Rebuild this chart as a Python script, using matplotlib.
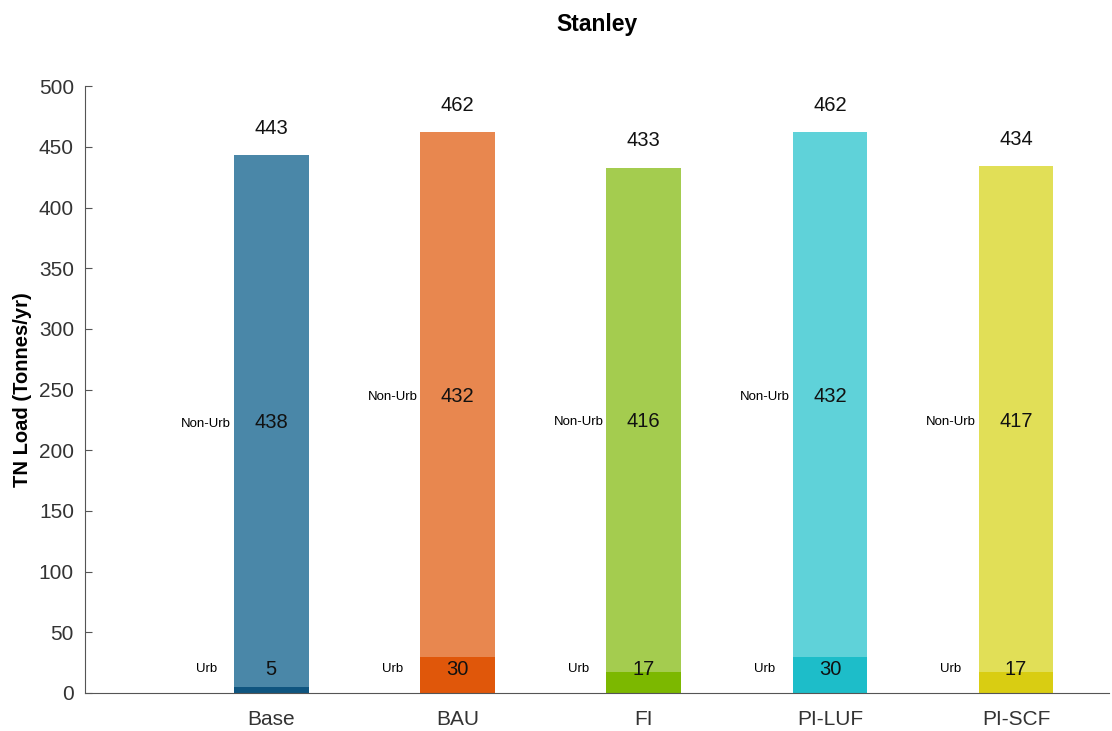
import matplotlib

matplotlib.use("Agg")
import matplotlib.pyplot as plt

plt.rcParams.update({
    "font.family": ["Liberation Sans", "DejaVu Sans"],
    "axes.edgecolor": "#555555",
})

scenarios = ["Base", "BAU", "FI", "PI-LUF", "PI-SCF"]
urb = [5, 30, 17, 30, 17]
non_urb = [438, 432, 416, 432, 417]
urb_colors = ["#0f5580", "#e0570a", "#7cb800", "#1dbdc9", "#d9cd12"]
non_urb_colors = ["#4a87a8", "#e8874f", "#a4cc4f", "#5fd2d9", "#e1df57"]

fig = plt.figure(figsize=(11.12, 7.31), dpi=100)
ax = fig.add_axes([0.0765, 0.052, 0.921, 0.83])

x = range(1, len(scenarios) + 1)
width = 0.4
ax.bar(x, urb, width=width, color=urb_colors)
ax.bar(x, non_urb, width=width, bottom=urb, color=non_urb_colors)

# подписи: итог сверху, значения сегментов и названия слева от столбца
for xi, u, n in zip(x, urb, non_urb):
    total = u + n
    mid = u + n / 2
    ax.text(xi, total + 22, f"{total}", ha="center", va="center", fontsize=14.5, color="#111111")
    ax.text(xi, mid - 1.5, f"{n}", ha="center", va="center", fontsize=14.5, color="#111111")
    ax.text(xi, 19, f"{u}", ha="center", va="center", fontsize=14.5, color="#111111")
    ax.text(xi - 0.35, mid - 2, "Non-Urb", ha="center", va="center", fontsize=9.5)
    ax.text(xi - 0.35, 20, "Urb", ha="center", va="center", fontsize=9.5)

ax.set_xlim(0, 5.5)
ax.set_ylim(0, 500)
ax.set_yticks(range(0, 501, 50))
ax.set_xticks(list(x))
ax.set_xticklabels(scenarios)
ax.tick_params(axis="y", direction="in", length=5, labelsize=15, colors="#555555", labelcolor="#333333", pad=8)
ax.tick_params(axis="x", length=0, labelsize=15, labelcolor="#333333", pad=12)
ax.spines["top"].set_visible(False)
ax.spines["right"].set_visible(False)
ax.set_ylabel("TN Load (Tonnes/yr)", fontsize=14.5, fontweight="bold", labelpad=5)
ax.set_title("Stanley", fontsize=16.5, fontweight="bold", pad=40)

fig.savefig("out.png", dpi=100)
